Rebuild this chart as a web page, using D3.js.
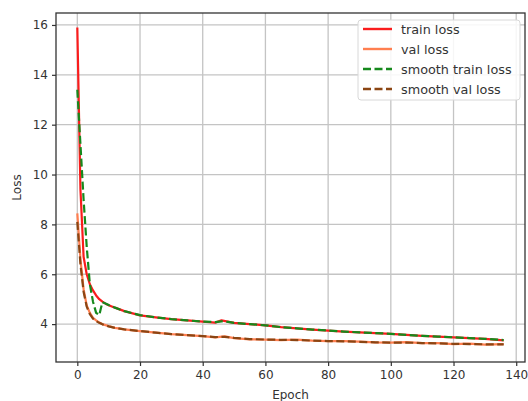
<!DOCTYPE html>
<html>
<head>
<meta charset="utf-8">
<script src="https://cdn.jsdelivr.net/npm/d3@7"></script>
<style>
  body { margin: 0; background: #fff; }
  svg text { font-family: "DejaVu Sans", sans-serif; fill: #333; }
</style>
</head>
<body>
<div id="chart"></div>
<script>
// epochs at which values were read
const trainEpochs = [0, 1, 2, 3, 4, 5, 6, 7, 8, 9, 10, 12, 15, 20, 25, 30, 35, 40, 44, 46, 48, 50, 55, 60, 65, 70, 75, 80, 85, 90, 95, 100, 105, 110, 115, 120, 125, 130, 136];
const trainLoss = [15.9, 9.4, 6.7, 6.0, 5.6, 5.35, 5.15, 5.0, 4.9, 4.82, 4.76, 4.66, 4.52, 4.35, 4.27, 4.2, 4.15, 4.1, 4.06, 4.15, 4.1, 4.05, 4.0, 3.95, 3.88, 3.83, 3.78, 3.74, 3.7, 3.67, 3.64, 3.61, 3.57, 3.53, 3.5, 3.47, 3.44, 3.41, 3.35];

const valEpochs = [0, 1, 2, 3, 4, 5, 6, 7, 8, 9, 10, 12, 15, 20, 25, 30, 35, 40, 44, 47, 50, 55, 60, 65, 70, 75, 80, 85, 90, 95, 100, 105, 110, 115, 120, 125, 130, 136];
const valLoss = [8.44, 6.6, 5.4, 4.75, 4.45, 4.25, 4.15, 4.06, 4.0, 3.96, 3.92, 3.85, 3.79, 3.72, 3.66, 3.6, 3.56, 3.52, 3.47, 3.51, 3.44, 3.39, 3.38, 3.36, 3.38, 3.34, 3.32, 3.32, 3.3, 3.27, 3.26, 3.28, 3.24, 3.24, 3.2, 3.22, 3.18, 3.2];

const smoothTrainEpochs = [0, 1, 2, 3, 4, 5, 6, 7, 8, 9, 10, 12, 15, 20, 25, 30, 35, 40, 44, 46, 48, 50, 55, 60, 65, 70, 75, 80, 85, 90, 95, 100, 105, 110, 115, 120, 125, 130, 136];
const smoothTrainLoss = [13.4, 11.2, 9.0, 7.1, 5.6, 4.9, 4.45, 4.36, 4.88, 4.83, 4.77, 4.66, 4.52, 4.36, 4.27, 4.2, 4.15, 4.1, 4.08, 4.11, 4.09, 4.05, 4.0, 3.95, 3.88, 3.83, 3.78, 3.74, 3.7, 3.67, 3.64, 3.61, 3.57, 3.53, 3.5, 3.47, 3.44, 3.41, 3.36];

const smoothValEpochs = [0, 1, 2, 3, 4, 5, 6, 7, 8, 9, 10, 12, 15, 20, 25, 30, 35, 40, 44, 47, 50, 55, 60, 65, 70, 75, 80, 85, 90, 95, 100, 105, 110, 115, 120, 125, 130, 136];
const smoothValLoss = [8.1, 6.4, 5.3, 4.7, 4.4, 4.22, 4.12, 4.05, 3.99, 3.95, 3.91, 3.85, 3.79, 3.72, 3.66, 3.6, 3.56, 3.52, 3.48, 3.49, 3.45, 3.4, 3.38, 3.37, 3.36, 3.34, 3.32, 3.31, 3.29, 3.27, 3.26, 3.26, 3.24, 3.23, 3.21, 3.2, 3.19, 3.19];

const xTicks = [0, 20, 40, 60, 80, 100, 120, 140];
const yTicks = [4, 6, 8, 10, 12, 14, 16];

const seriesNames = ["train loss", "val loss", "smooth train loss", "smooth val loss"];
const seriesColors = ["#fa1c1c", "#ff7f50", "#16891c", "#8b4513"];
const seriesDash = [null, null, "8,3.5", "8,3.5"];

const width = 528, height = 401;
const margin = { top: 13, right: 3, bottom: 39, left: 56 };
const w = width - margin.left - margin.right;
const h = height - margin.top - margin.bottom;

const svg = d3.select("#chart").append("svg")
  .attr("width", width)
  .attr("height", height);

const g = svg.append("g")
  .attr("transform", "translate(" + margin.left + "," + margin.top + ")");

const x = d3.scaleLinear().domain([-6.8, 142.8]).range([0, w]);
const y = d3.scaleLinear().domain([2.48, 16.48]).range([h, 0]);

// grid
g.append("g").selectAll("line")
  .data(xTicks)
  .enter().append("line")
  .attr("x1", d => x(d)).attr("x2", d => x(d))
  .attr("y1", 0).attr("y2", h)
  .attr("stroke", "#c4c4c4").attr("stroke-width", 1.3);

g.append("g").selectAll("line")
  .data(yTicks)
  .enter().append("line")
  .attr("y1", d => y(d)).attr("y2", d => y(d))
  .attr("x1", 0).attr("x2", w)
  .attr("stroke", "#c4c4c4").attr("stroke-width", 1.3);

// lines
const series = [
  trainEpochs.map((e, i) => [e, trainLoss[i]]),
  valEpochs.map((e, i) => [e, valLoss[i]]),
  smoothTrainEpochs.map((e, i) => [e, smoothTrainLoss[i]]),
  smoothValEpochs.map((e, i) => [e, smoothValLoss[i]])
];

const line = d3.line().x(d => x(d[0])).y(d => y(d[1]));

series.forEach((s, i) => {
  g.append("path")
    .datum(s)
    .attr("fill", "none")
    .attr("stroke", seriesColors[i])
    .attr("stroke-width", 2.2)
    .attr("stroke-linejoin", "round")
    .attr("stroke-dasharray", seriesDash[i])
    .attr("d", line);
});

// axes
const xAxis = g.append("g")
  .attr("transform", "translate(0," + h + ")")
  .call(d3.axisBottom(x).tickValues(xTicks).tickSize(4).tickPadding(4).tickSizeOuter(0));
const yAxis = g.append("g")
  .call(d3.axisLeft(y).tickValues(yTicks).tickSize(4).tickPadding(4).tickSizeOuter(0));

[xAxis, yAxis].forEach(a => {
  a.select(".domain").remove();
  a.selectAll("line").attr("stroke", "#333").attr("stroke-width", 1.2);
  a.selectAll("text").style("font-size", "12px").attr("fill", "#333");
});

// frame
g.append("rect")
  .attr("width", w).attr("height", h)
  .attr("fill", "none").attr("stroke", "#333").attr("stroke-width", 1.3);

// labels
svg.append("text")
  .attr("x", margin.left + w / 2).attr("y", 399)
  .attr("text-anchor", "middle")
  .style("font-size", "12px")
  .text("Epoch");

svg.append("text")
  .attr("transform", "translate(21," + (margin.top + h / 2) + ") rotate(-90)")
  .attr("text-anchor", "middle")
  .style("font-size", "12px")
  .text("Loss");

// legend
const legend = svg.append("g").attr("transform", "translate(358,20)");
legend.append("rect")
  .attr("width", 162).attr("height", 80)
  .attr("rx", 3)
  .attr("fill", "#fff").attr("fill-opacity", 0.85)
  .attr("stroke", "#d8d8d8");

seriesNames.forEach((name, i) => {
  const row = legend.append("g").attr("transform", "translate(0," + (9 + i * 20) + ")");
  row.append("line")
    .attr("x1", 5).attr("x2", 34)
    .attr("y1", 0).attr("y2", 0)
    .attr("stroke", seriesColors[i])
    .attr("stroke-width", 2.4)
    .attr("stroke-dasharray", seriesDash[i]);
  row.append("text")
    .attr("x", 43).attr("y", 4.5)
    .style("font-size", "12.8px")
    .text(name);
});
</script>
</body>
</html>
